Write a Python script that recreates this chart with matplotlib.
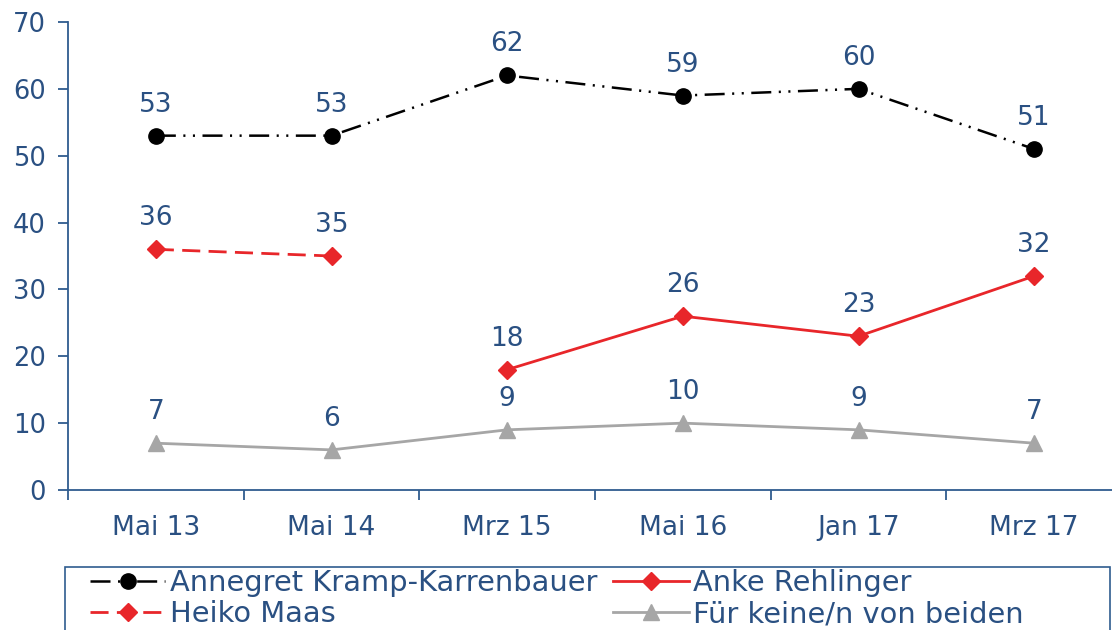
import matplotlib
matplotlib.use('Agg')
import matplotlib.pyplot as plt
from matplotlib.patches import Rectangle
import numpy as np

# survey dates and values
dates = ["Mai 13", "Mai 14", "Mrz 15", "Mai 16", "Jan 17", "Mrz 17"]
akk = [53, 53, 62, 59, 60, 51]
maas = [36, 35, np.nan, np.nan, np.nan, np.nan]
rehlinger = [np.nan, np.nan, 18, 26, 23, 32]
keine = [7, 6, 9, 10, 9, 7]

txt_col = '#2A5082'
axis_col = '#2F5C8F'
red = '#E8262A'
grey = '#A6A6A6'

plt.rcParams['font.family'] = ['DejaVu Sans']
plt.rcParams['lines.scale_dashes'] = False

W, H = 1112, 630
fig = plt.figure(figsize=(W / 100, H / 100), dpi=100)
ax = fig.add_axes([68 / W, 1 - 490 / H, 1054 / W, 468 / H])

x = np.arange(len(dates))
ax.plot(x, akk, color='black', lw=1.8, dashes=(14.4, 5.4, 1.5, 5.4, 1.5, 5.4),
        marker='o', ms=11, label='Annegret Kramp-Karrenbauer')
ax.plot(x, rehlinger, color=red, lw=2.0, marker='D', ms=9.5, label='Anke Rehlinger')
ax.plot(x, maas, color=red, lw=2.0, dashes=(13, 6), marker='D', ms=9.5, label='Heiko Maas')
ax.plot(x, keine, color=grey, lw=2.0, marker='^', ms=11, label='Für keine/n von beiden')

for series in (akk, maas, rehlinger, keine):
    for xi, v in zip(x, series):
        if np.isnan(v):
            continue
        ax.annotate(f"{v:.0f}", (xi, v), xytext=(0, 31), textcoords='offset pixels',
                    ha='center', va='center', fontsize=19, color=txt_col)

ax.set_xlim(-0.5, len(dates) - 0.5)
ax.set_ylim(0, 70)
ax.set_yticks(range(0, 71, 10))
ax.set_xticks(x)
ax.set_xticklabels(dates)
ax.set_xticks(np.arange(-0.5, len(dates)), minor=True)

for s in ('top', 'right'):
    ax.spines[s].set_visible(False)
for s in ('left', 'bottom'):
    ax.spines[s].set_color(axis_col)
    ax.spines[s].set_linewidth(1.3)

ax.tick_params(axis='y', direction='out', length=7, width=1.3, color=axis_col,
               labelsize=18.5, labelcolor=txt_col, pad=9)
ax.tick_params(axis='x', which='major', length=0, labelsize=19, labelcolor=txt_col, pad=18)
ax.tick_params(axis='x', which='minor', direction='out', length=7, width=1.3, color=axis_col)

# legend frame, drawn by hand so it can run off the bottom edge
fig.patches.append(Rectangle((65 / W, -0.05), 1045 / W, 1 - 567 / H + 0.05,
                             transform=fig.transFigure, fill=False,
                             edgecolor=axis_col, lw=1.2))

handles, labels = ax.get_legend_handles_labels()
order = [0, 2, 1, 3]
leg = fig.legend([handles[i] for i in order], [labels[i] for i in order],
                 loc='upper left', bbox_to_anchor=(90 / W, 1 - 569 / H),
                 ncol=2, fontsize=20.8, frameon=False,
                 handlelength=2.6, handletextpad=0.17, borderpad=0, labelspacing=0.12,
                 columnspacing=0.55, borderaxespad=0)
for t in leg.get_texts():
    t.set_color(txt_col)

plt.savefig("out.png", dpi=100)
plt.close(fig)
